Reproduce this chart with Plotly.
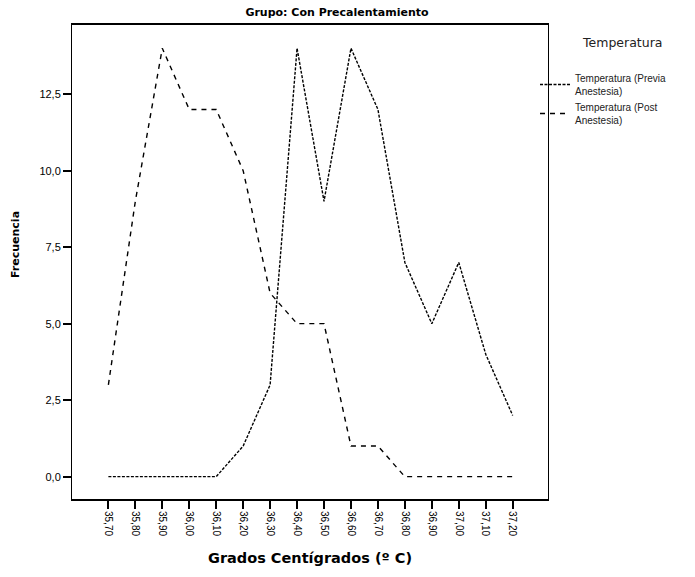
import plotly.graph_objects as go

categories = ["35,70", "35,80", "35,90", "36,00", "36,10", "36,20", "36,30", "36,40",
              "36,50", "36,60", "36,70", "36,80", "36,90", "37,00", "37,10", "37,20"]
previa = [0, 0, 0, 0, 0, 1, 3, 14, 9, 14, 12, 7, 5, 7, 4, 2]
post = [3, 9, 14, 12, 12, 10, 6, 5, 5, 1, 1, 0, 0, 0, 0, 0]
y_tickvals = [0, 2.5, 5, 7.5, 10, 12.5]
y_ticktext = ["0,0", "2,5", "5,0", "7,5", "10,0", "12,5"]

idx = list(range(len(categories)))
FONT = "Liberation Sans, Arial, sans-serif"
BOLD = "DejaVu Sans, Verdana, sans-serif"
PH = 474.0  # plot height px
PW = 476.0  # plot width px

fig = go.Figure()
fig.add_trace(go.Scatter(
    x=idx, y=previa, mode="lines", name="Temperatura (Previa<br>Anestesia)",
    line=dict(color="black", width=1.4, dash="3px,1.5px")))
fig.add_trace(go.Scatter(
    x=idx, y=post, mode="lines", name="Temperatura (Post<br>Anestesia)",
    line=dict(color="black", width=1.4, dash="5px,5px")))

fig.update_layout(
    width=695, height=577,
    margin=dict(l=72, r=147, t=25, b=78),
    paper_bgcolor="white", plot_bgcolor="white",
    font=dict(family=FONT, color="black", size=10),
    title=dict(text="<b>Grupo: Con Precalentamiento</b>", x=337 / 695, xanchor="center",
               y=1 - 12 / 577, yanchor="middle", yref="container",
               font=dict(size=11, family=BOLD)),
    xaxis=dict(range=[-1.35, 16.31], tickvals=idx, ticktext=categories, tickangle=90,
               showgrid=False, zeroline=False, showline=True, linecolor="black",
               linewidth=2, mirror=True, ticks="outside", ticklen=8, tickwidth=2,
               tickcolor="black", tickfont=dict(size=10)),
    yaxis=dict(range=[-0.73, 14.76], tickvals=y_tickvals, ticktext=y_ticktext,
               showgrid=False, zeroline=False, showline=True, linecolor="black",
               linewidth=1, mirror=True, ticks="outside", ticklen=8, tickwidth=1.5,
               tickcolor="black", tickfont=dict(size=11)),
    legend=dict(x=1 - 13 / PW, xanchor="left", y=1 - (65 - 25) / PH, yanchor="top",
                font=dict(size=10, color="#222"), itemwidth=30, tracegroupgap=8,
                bgcolor="rgba(0,0,0,0)"),
    annotations=[
        dict(text="Temperatura", xref="paper", yref="paper",
             x=1 + (622 - 548) / PW, y=1 - (42 - 25) / PH, xanchor="center", yanchor="middle",
             showarrow=False, font=dict(size=12.5, color="#222", family=BOLD)),
        dict(text="<b>Frecuencia</b>", xref="paper", yref="paper", textangle=-90,
             x=(15 - 72) / PW, y=1 - (245 - 25) / PH, xanchor="center", yanchor="middle",
             showarrow=False, font=dict(size=11, family=BOLD)),
        dict(text="<b>Grados Centígrados (º C)</b>", xref="paper", yref="paper",
             x=(310 - 72) / PW, y=-(558 - 499) / PH, xanchor="center", yanchor="middle",
             showarrow=False, font=dict(size=14.5, family=BOLD)),
    ],
)

fig.write_html("out.html")
